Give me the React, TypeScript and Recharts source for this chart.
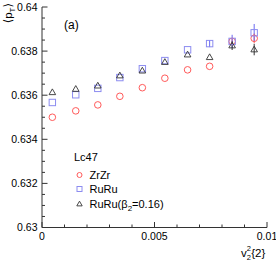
import React from 'react';
import { ScatterChart, Scatter, XAxis, YAxis, ErrorBar } from 'recharts';

// ---------- data ----------
const xValues = [0.00046, 0.0015, 0.00248, 0.00346, 0.00446, 0.00546, 0.00647, 0.00745, 0.00845, 0.00943];
const zrzrMeanPt = [0.635, 0.63529, 0.63556, 0.63595, 0.63634, 0.63677, 0.63715, 0.63731, 0.63844, 0.63858];
const zrzrErr = [0, 0, 0, 0, 0, 0, 0, 0, 0.00015, 0.00022];
const ruruMeanPt = [0.63567, 0.63602, 0.63631, 0.6368, 0.6372, 0.63757, 0.63806, 0.63834, 0.63844, 0.63883];
const ruruErr = [0, 0, 0, 0, 0, 0, 0, 0.00016, 0.0003, 0.0004];
const ruruB2MeanPt = [0.63613, 0.63628, 0.63643, 0.63689, 0.63711, 0.6375, 0.63784, 0.63772, 0.63825, 0.63807];
const ruruB2Err = [0, 0, 0, 0, 0, 0, 0, 0, 0.0002, 0.00026];

const xTicks = [0, 0.001, 0.002, 0.003, 0.004, 0.005, 0.006, 0.007, 0.008, 0.009, 0.01];
const xMajorTicks = [0, 0.005, 0.01];
const xTickLabels = ['0', '0.005', '0.01'];
const yTicks = [
  0.63, 0.6305, 0.631, 0.6315, 0.632, 0.6325, 0.633, 0.6335, 0.634, 0.6345, 0.635,
  0.6355, 0.636, 0.6365, 0.637, 0.6375, 0.638, 0.6385, 0.639, 0.6395, 0.64,
];
const yMajorTicks = [0.63, 0.632, 0.634, 0.636, 0.638, 0.64];
const yTickLabels = ['0.63', '0.632', '0.634', '0.636', '0.638', '0.64'];

const seriesNames = ['ZrZr', 'RuRu', 'RuRu(β', '=0.16)'];
const legendHeader = 'Lc47';

const build = (ys: number[], errs: number[]) => ys.map((y, i) => ({ x: xValues[i], y, err: errs[i] }));
const zrzrData = build(zrzrMeanPt, zrzrErr);
const ruruData = build(ruruMeanPt, ruruErr);
const ruruB2Data = build(ruruB2MeanPt, ruruB2Err);

// ---------- styles ----------
const FONT = '"Liberation Sans", Arial, "DejaVu Sans", sans-serif';
const RED = '#ff5a5a';
const BLUE = '#8c8cf0';
const BLACK = '#333333';
const AXIS = '#333333';

const majorIndex = (v: number, majors: number[]) => majors.findIndex((m) => Math.abs(m - v) < 1e-7);

// ---------- markers ----------
const CircleMark = ({ cx, cy, r = 3.3, color = RED }: any) => (
  <circle cx={cx} cy={cy} r={r} fill="none" stroke={color} strokeWidth={1} />
);
const SquareMark = ({ cx, cy, s = 6.4, color = BLUE }: any) => (
  <rect x={cx - s / 2} y={cy - s / 2} width={s} height={s} fill="none" stroke={color} strokeWidth={1} />
);
const TriMark = ({ cx, cy, s = 6.6, color = BLACK }: any) => {
  const h = s * 0.87;
  const pts = `${cx},${cy - h * 0.6} ${cx - s / 2},${cy + h * 0.4} ${cx + s / 2},${cy + h * 0.4}`;
  return <polygon points={pts} fill="none" stroke={color} strokeWidth={0.9} />;
};

// ---------- ticks ----------
const XTickBottom = (props: any) => {
  const { x, y, payload } = props;
  const mi = majorIndex(payload.value, xMajorTicks);
  const len = mi >= 0 ? 5.5 : 3;
  return (
    <g>
      <line x1={x} x2={x} y1={y} y2={y - len} stroke={AXIS} strokeWidth={1} />
      {mi >= 0 && (
        <text x={x} y={y + 12} textAnchor="middle" fontSize={10.5} fontFamily={FONT} fill="#000">
          {xTickLabels[mi]}
        </text>
      )}
    </g>
  );
};
const XTickTop = (props: any) => {
  const { x, y, payload } = props;
  const mi = majorIndex(payload.value, xMajorTicks);
  const len = mi >= 0 ? 5.5 : 3;
  return <line x1={x} x2={x} y1={y} y2={y + len} stroke={AXIS} strokeWidth={1} />;
};
const YTickLeft = (props: any) => {
  const { x, y, payload } = props;
  const mi = majorIndex(payload.value, yMajorTicks);
  const len = mi >= 0 ? 5.5 : 3;
  return (
    <g>
      <line x1={x} x2={x + len} y1={y} y2={y} stroke={AXIS} strokeWidth={1} />
      {mi >= 0 && (
        <text x={x - 4.5} y={y + 3.8} textAnchor="end" fontSize={10.5} fontFamily={FONT} fill="#000">
          {yTickLabels[mi]}
        </text>
      )}
    </g>
  );
};
const YTickRight = (props: any) => {
  const { x, y, payload } = props;
  const mi = majorIndex(payload.value, yMajorTicks);
  const len = mi >= 0 ? 5.5 : 3;
  return <line x1={x} x2={x - len} y1={y} y2={y} stroke={AXIS} strokeWidth={1} />;
};

// ---------- labels ----------
const XTitle = () => (
  <g fontFamily={FONT} fill="#000">
    <text x={241} y={257} fontSize={11.5}>v</text>
    <text x={246.8} y={251} fontSize={7.5}>2</text>
    <text x={246.8} y={260} fontSize={7.5}>2</text>
    <text x={251.2} y={257} fontSize={11.5}>{'{2}'}</text>
  </g>
);
const YTitle = () => (
  <g fontFamily={FONT} fill="#000">
    <text x={11.5} y={3} fontSize={11.5} textAnchor="end" transform="rotate(-90, 11.5, 3)">
      ⟨p<tspan dy={3} fontSize={8}>T</tspan><tspan dy={-3}>⟩</tspan>
    </text>
  </g>
);
const PanelTag = () => (
  <text x={64} y={29} fontSize={12} fontFamily={FONT} fill="#000">(a)</text>
);

const LegendBox = () => (
  <g transform="translate(70, 147)" fontFamily={FONT} fontSize={11} fill="#000">
    <text x={4} y={14}>{legendHeader}</text>
    <CircleMark cx={9.5} cy={28} r={2.5} />
    <text x={19.5} y={32}>{seriesNames[0]}</text>
    <SquareMark cx={9.5} cy={42} s={5} />
    <text x={19.5} y={46}>{seriesNames[1]}</text>
    <TriMark cx={9.5} cy={57} s={5.4} />
    <text x={19.5} y={61}>
      {seriesNames[2]}
      <tspan dy={3} fontSize={8}>2</tspan>
      <tspan dy={-3}>{seriesNames[3]}</tspan>
    </text>
  </g>
);

const BottomLabels = () => (
  <g>
    <XTitle />
    <LegendBox />
  </g>
);
const LeftLabels = () => (
  <g>
    <YTitle />
    <PanelTag />
  </g>
);

export default function App() {
  return (
    <div style={{ position: 'absolute', left: 0, top: 0, width: 276, height: 265, background: '#fff' }}>
      <ScatterChart width={276} height={265} margin={{ top: 7, right: 9, bottom: 0, left: 0 }}>
        <XAxis
          xAxisId="b"
          type="number"
          dataKey="x"
          domain={[0, 0.01]}
          allowDataOverflow
          ticks={xTicks}
          interval={0}
          tickSize={0}
          tickMargin={0}
          height={37.5}
          axisLine={{ stroke: AXIS }}
          tickLine={false}
          tick={<XTickBottom />}
          label={{ content: () => <BottomLabels /> }}
        />
        <XAxis
          xAxisId="t"
          orientation="top"
          type="number"
          dataKey="x"
          domain={[0, 0.01]}
          allowDataOverflow
          ticks={xTicks}
          interval={0}
          tickSize={0}
          tickMargin={0}
          height={0}
          axisLine={{ stroke: AXIS }}
          tickLine={false}
          tick={<XTickTop />}
        />
        <YAxis
          yAxisId="l"
          type="number"
          dataKey="y"
          domain={[0.63, 0.64]}
          allowDataOverflow
          ticks={yTicks}
          interval={0}
          tickSize={0}
          tickMargin={0}
          width={42}
          axisLine={{ stroke: AXIS }}
          tickLine={false}
          tick={<YTickLeft />}
          label={{ content: () => <LeftLabels /> }}
        />
        <YAxis
          yAxisId="r"
          orientation="right"
          type="number"
          dataKey="y"
          domain={[0.63, 0.64]}
          allowDataOverflow
          ticks={yTicks}
          interval={0}
          tickSize={0}
          tickMargin={0}
          width={0}
          axisLine={{ stroke: AXIS }}
          tickLine={false}
          tick={<YTickRight />}
        />
        <Scatter name="ZrZr" data={zrzrData} xAxisId="b" yAxisId="l" shape={<CircleMark />} isAnimationActive={false}>
          <ErrorBar dataKey="err" direction="y" width={0} stroke={RED} strokeWidth={1} />
        </Scatter>
        <Scatter name="RuRu" data={ruruData} xAxisId="b" yAxisId="l" shape={<SquareMark />} isAnimationActive={false}>
          <ErrorBar dataKey="err" direction="y" width={0} stroke={'#6a6af0'} strokeWidth={1} />
        </Scatter>
        <Scatter name="RuRu(b2=0.16)" data={ruruB2Data} xAxisId="b" yAxisId="l" shape={<TriMark />} isAnimationActive={false}>
          <ErrorBar dataKey="err" direction="y" width={0} stroke={BLACK} strokeWidth={1} />
        </Scatter>
      </ScatterChart>
    </div>
  );
}
